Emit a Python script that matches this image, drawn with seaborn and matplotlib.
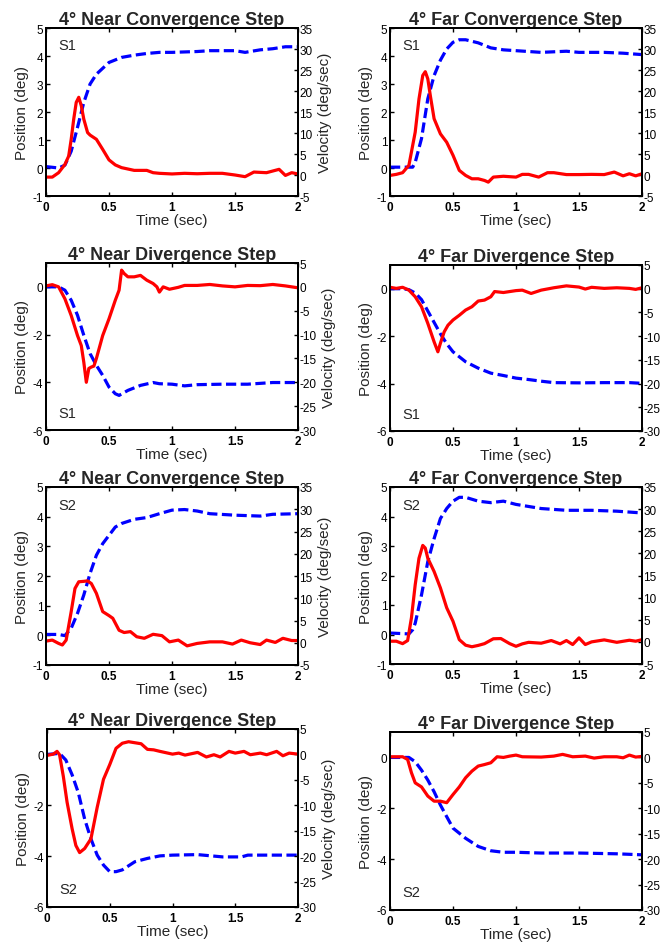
import numpy as np
import pandas as pd
import matplotlib
matplotlib.use("Agg")
import matplotlib.pyplot as plt
import seaborn as sns

# Readings per panel: time (sec), position (deg), velocity (deg/sec)
# 4 deg near convergence, S1
t_pos_nc1 = [0, 0.1, 0.15, 0.2, 0.25, 0.3, 0.35, 0.4, 0.5, 0.6, 0.7, 0.8, 0.9, 1.0, 1.2, 1.3, 1.5, 1.58, 1.7, 1.8, 1.9, 2.0]
pos_nc1 = [0.05, 0.0, 0.1, 0.6, 1.45, 2.34, 3.0, 3.35, 3.77, 3.95, 4.03, 4.09, 4.13, 4.13, 4.16, 4.19, 4.19, 4.13, 4.22, 4.26, 4.33, 4.33]
t_vel_nc1 = [0, 0.05, 0.1, 0.15, 0.18, 0.2, 0.22, 0.24, 0.26, 0.28, 0.3, 0.33, 0.35, 0.4, 0.45, 0.5, 0.55, 0.6, 0.7, 0.8,
             0.85, 0.9, 1.0, 1.1, 1.2, 1.3, 1.4, 1.5, 1.58, 1.65, 1.75, 1.85, 1.9, 1.95, 2.0]
vel_nc1 = [-0.5, -0.5, 0.55, 2.5, 4.5, 8.5, 13.3, 17.3, 18.5, 16.5, 13.3, 10.1, 9.5, 8.5, 6.1, 3.6, 2.4, 1.75, 1.1, 1.1,
           0.55, 0.4, 0.25, 0.4, 0.3, 0.4, 0.4, 0.0, -0.4, 0.7, 0.55, 1.35, -0.1, 0.55, 0.25]

# 4 deg far convergence, S1
t_pos_fc1 = [0, 0.18, 0.2, 0.25, 0.3, 0.35, 0.4, 0.45, 0.5, 0.55, 0.6, 0.7, 0.8, 0.9, 1.0, 1.2, 1.4, 1.5, 1.7, 1.85, 2.0]
pos_fc1 = [0.03, 0.03, 0.2, 1.05, 2.47, 3.3, 3.85, 4.25, 4.49, 4.58, 4.58, 4.47, 4.29, 4.22, 4.19, 4.13, 4.17, 4.13, 4.13, 4.1, 4.05]
t_vel_fc1 = [0, 0.05, 0.1, 0.15, 0.2, 0.23, 0.26, 0.28, 0.3, 0.32, 0.35, 0.4, 0.45, 0.5, 0.55, 0.6, 0.65, 0.7, 0.75, 0.78,
             0.82, 0.9, 1.0, 1.05, 1.1, 1.18, 1.25, 1.3, 1.4, 1.5, 1.6, 1.7, 1.78, 1.85, 1.9, 1.95, 2.0]
vel_fc1 = [-0.1, 0.15, 0.55, 2.3, 10.2, 18.1, 23.7, 24.6, 22.9, 18.9, 13.4, 9.8, 7.8, 4.7, 1.1, -0.1, -0.9, -0.9, -1.3, -1.7,
           -0.5, -0.3, -0.5, 0.15, 0.15, -0.5, 0.55, 0.55, 0.1, 0.1, 0.15, 0.1, 0.7, -0.2, 0.3, -0.2, 0.3]

# 4 deg near divergence, S1
t_pos_nd1 = [0, 0.1, 0.15, 0.2, 0.25, 0.3, 0.35, 0.4, 0.45, 0.5, 0.55, 0.58, 0.65, 0.75, 0.85, 0.9, 1.0, 1.1, 1.2, 1.4, 1.6, 1.8, 2.0]
pos_nd1 = [0, 0, -0.14, -0.56, -1.19, -2.03, -2.8, -3.29, -3.71, -4.2, -4.48, -4.55, -4.34, -4.13, -4.01, -4.06, -4.08,
           -4.15, -4.1, -4.08, -4.08, -4.01, -4.01]
t_vel_nd1 = [0, 0.05, 0.1, 0.15, 0.2, 0.25, 0.28, 0.3, 0.32, 0.34, 0.36, 0.38, 0.4, 0.45, 0.5, 0.55, 0.58, 0.6, 0.62, 0.65,
             0.7, 0.75, 0.8, 0.85, 0.88, 0.9, 0.93, 0.98, 1.05, 1.1, 1.2, 1.3, 1.4, 1.5, 1.6, 1.7, 1.8, 1.9, 2.0]
vel_nd1 = [0.2, 0.46, 0, -2.5, -6, -10.2, -12.3, -15.8, -20, -17.1, -16.8, -16.6, -15, -10.2, -6.7, -2.8, -0.7, 3.5, 2.8, 2.1,
           2.1, 2.4, 1.4, 0.7, 0, -1.1, 0, -0.5, -0.1, 0.3, 0.3, 0.5, 0.2, 0, 0.3, 0.25, 0.5, 0.2, -0.2]

# 4 deg far divergence, S1
t_pos_fd1 = [0, 0.1, 0.15, 0.2, 0.25, 0.3, 0.35, 0.4, 0.45, 0.5, 0.6, 0.7, 0.8, 0.9, 1.0, 1.1, 1.2, 1.3, 1.5, 1.7, 1.9, 2.0]
pos_fd1 = [0, 0, -0.04, -0.18, -0.46, -0.94, -1.42, -1.9, -2.32, -2.66, -3.08, -3.35, -3.56, -3.66, -3.77, -3.83, -3.9,
           -3.96, -3.97, -3.96, -3.96, -3.99]
t_vel_fd1 = [0, 0.05, 0.1, 0.15, 0.2, 0.25, 0.3, 0.35, 0.38, 0.4, 0.43, 0.46, 0.5, 0.55, 0.6, 0.65, 0.7, 0.75, 0.8, 0.83,
             0.9, 1.0, 1.05, 1.12, 1.2, 1.3, 1.4, 1.5, 1.55, 1.6, 1.7, 1.8, 1.9, 1.95, 2.0]
vel_fd1 = [0.3, 0.07, 0.3, -0.3, -1.7, -3.8, -7.3, -11.2, -13.3, -11.5, -9.1, -7.7, -6.6, -5.6, -4.5, -3.8, -2.6, -2.4, -1.7, -0.6,
           -0.8, -0.4, -0.3, -1.0, -0.3, 0.2, 0.6, 0.35, -0.07, 0.3, 0.07, 0.2, 0.07, -0.14, 0.2]

# 4 deg near convergence, S2
t_pos_nc2 = [0, 0.1, 0.15, 0.2, 0.25, 0.3, 0.35, 0.4, 0.45, 0.5, 0.55, 0.6, 0.7, 0.8, 0.9, 1.0, 1.1, 1.2, 1.3, 1.5, 1.7, 1.8, 2.0]
pos_nc2 = [0.03, 0.03, -0.01, 0.24, 0.74, 1.36, 2.09, 2.7, 3.09, 3.37, 3.65, 3.77, 3.91, 3.97, 4.1, 4.22, 4.24, 4.19, 4.1,
           4.05, 4.02, 4.08, 4.1]
t_vel_nc2 = [0, 0.05, 0.1, 0.13, 0.16, 0.2, 0.23, 0.26, 0.3, 0.33, 0.36, 0.4, 0.45, 0.5, 0.53, 0.58, 0.62, 0.67, 0.72, 0.78,
             0.85, 0.92, 0.98, 1.05, 1.12, 1.2, 1.3, 1.4, 1.48, 1.55, 1.62, 1.7, 1.75, 1.82, 1.88, 1.95, 2.0]
vel_nc2 = [0.37, 0.6, -0.15, -0.5, 0.6, 7.0, 12.2, 13.7, 13.8, 13.9, 13.3, 11.1, 7.0, 6.1, 5.5, 2.8, 2.3, 2.5, 1.35, 1.0,
           1.9, 1.6, 0.2, 0.6, -0.7, -0.15, 0.2, 0.2, -0.3, 0.6, 0, -0.4, 0.6, 0.07, 1.0, 0.5, 0.5]

# 4 deg far convergence, S2
t_pos_fc2 = [0, 0.15, 0.18, 0.2, 0.25, 0.3, 0.35, 0.4, 0.45, 0.5, 0.55, 0.6, 0.7, 0.8, 0.9, 1.0, 1.2, 1.4, 1.6, 1.8, 2.0]
pos_fc2 = [0.05, 0.02, 0.16, 0.38, 1.34, 2.47, 3.25, 3.93, 4.27, 4.52, 4.65, 4.65, 4.52, 4.47, 4.52, 4.41, 4.27, 4.21,
           4.21, 4.18, 4.12]
t_vel_fc2 = [0, 0.05, 0.1, 0.14, 0.17, 0.2, 0.23, 0.26, 0.28, 0.3, 0.35, 0.4, 0.45, 0.5, 0.55, 0.6, 0.65, 0.7, 0.75, 0.82,
             0.88, 0.95, 1.0, 1.05, 1.1, 1.2, 1.28, 1.35, 1.4, 1.45, 1.5, 1.55, 1.6, 1.7, 1.8, 1.9, 1.95, 2.0]
vel_fc2 = [0.15, 0.15, -0.4, 0.3, 5.4, 12.9, 18.9, 21.8, 21.2, 18.9, 15.9, 12.2, 7.7, 4.65, 0.5, -0.75, -1.1, -0.8, -0.4, 0.7,
           0.75, -0.4, -1.0, -0.45, -0.1, -0.3, 0.3, -0.45, 0.3, -0.6, 0.9, -0.6, 0, 0.45, -0.1, 0.37, 0.15, 0.5]

# 4 deg near divergence, S2
t_pos_nd2 = [0, 0.1, 0.15, 0.2, 0.25, 0.3, 0.35, 0.4, 0.45, 0.5, 0.55, 0.6, 0.7, 0.8, 0.9, 1.0, 1.2, 1.4, 1.55, 1.6, 1.8, 2.0]
pos_nd2 = [0, 0.04, -0.22, -0.8, -1.51, -2.54, -3.32, -3.96, -4.35, -4.61, -4.61, -4.54, -4.22, -4.09, -3.99, -3.96,
           -3.94, -4.03, -4.03, -3.96, -3.96, -3.96]
t_vel_nd2 = [0, 0.05, 0.08, 0.1, 0.13, 0.16, 0.2, 0.23, 0.26, 0.3, 0.35, 0.4, 0.45, 0.5, 0.55, 0.6, 0.65, 0.7, 0.75, 0.8,
             0.85, 0.9, 1.0, 1.05, 1.1, 1.2, 1.27, 1.33, 1.38, 1.45, 1.5, 1.57, 1.62, 1.7, 1.75, 1.83, 1.88, 1.93, 2.0]
vel_nd2 = [-0.2, 0.06, 0.6, -0.06, -4.3, -9.4, -14.6, -17.9, -19.3, -18.5, -16.6, -10.4, -4.9, -2.0, 1.2, 2.2, 2.5, 2.3, 2.1, 1.0,
           0.9, 0.6, 0.06, 0.26, -0.13, 0.4, -0.5, -0.06, -0.5, 0.6, 0.26, 0.6, -0.06, 0.26, -0.06, 0.6, -0.26, 0.26, 0.06]

# 4 deg far divergence, S2
t_pos_fd2 = [0, 0.15, 0.2, 0.25, 0.3, 0.35, 0.4, 0.45, 0.5, 0.6, 0.7, 0.8, 0.9, 1.0, 1.2, 1.5, 1.8, 2.0]
pos_fd2 = [0, 0, -0.17, -0.5, -0.89, -1.35, -1.87, -2.33, -2.78, -3.18, -3.5, -3.67, -3.73, -3.73, -3.76, -3.76, -3.79, -3.83]
t_vel_fd2 = [0, 0.1, 0.14, 0.17, 0.2, 0.25, 0.3, 0.35, 0.4, 0.45, 0.5, 0.55, 0.6, 0.65, 0.7, 0.75, 0.8, 0.85, 0.9, 0.95,
             1.0, 1.05, 1.2, 1.3, 1.37, 1.45, 1.55, 1.62, 1.7, 1.8, 1.85, 1.9, 1.95, 2.0]
vel_fd2 = [0.13, 0.13, -0.4, -3.0, -5.0, -5.8, -7.6, -8.6, -8.6, -8.9, -7.3, -5.8, -4.0, -2.7, -1.7, -1.4, -1.05, 0.13, 0, 0.26,
           0.46, 0.13, 0.07, 0.26, 0.6, 0.13, 0.26, -0.13, 0.13, 0.13, -0.07, 0.46, 0.07, 0.2]

titles = ["4° Near Convergence Step", "4° Far Convergence Step",
          "4° Near Divergence Step", "4° Far Divergence Step"]
x_ticks = [0, 0.5, 1, 1.5, 2]
x_tick_labels = ["0", "0.5", "1", "1.5", "2"]

# Style
sns.set_style("ticks")
plt.rcParams["font.family"] = ["Liberation Sans", "DejaVu Sans"]
plt.rcParams["axes.linewidth"] = 1.4

fig = plt.figure(figsize=(6.63, 9.45), dpi=100)
W, H = 663, 945

def rect(x0, y0, x1, y1):
    return [x0 / W, 1 - y1 / H, (x1 - x0) / W, (y1 - y0) / H]

# (axes rect in px, title, subject, pos data, vel data, is convergence, left column)
panels = [
    (rect(46, 29, 298, 197), titles[0], "S1", t_pos_nc1, pos_nc1, t_vel_nc1, vel_nc1, True, True),
    (rect(390, 29, 642, 197), titles[1], "S1", t_pos_fc1, pos_fc1, t_vel_fc1, vel_fc1, True, False),
    (rect(46, 264, 298, 431), titles[2], "S1", t_pos_nd1, pos_nd1, t_vel_nd1, vel_nd1, False, True),
    (rect(390, 266, 642, 432), titles[3], "S1", t_pos_fd1, pos_fd1, t_vel_fd1, vel_fd1, False, False),
    (rect(46, 488, 298, 666), titles[0], "S2", t_pos_nc2, pos_nc2, t_vel_nc2, vel_nc2, True, True),
    (rect(390, 488, 642, 665), titles[1], "S2", t_pos_fc2, pos_fc2, t_vel_fc2, vel_fc2, True, False),
    (rect(47, 730, 298, 908), titles[2], "S2", t_pos_nd2, pos_nd2, t_vel_nd2, vel_nd2, False, True),
    (rect(390, 733, 642, 911), titles[3], "S2", t_pos_fd2, pos_fd2, t_vel_fd2, vel_fd2, False, False),
]

for r, title, subj, tp, pos, tv, vel, conv, left_col in panels:
    ax = fig.add_axes(r)
    sns.lineplot(x=tp, y=pos, ax=ax, color="#0000ff", lw=2.3, estimator=None, sort=False,
                 linestyle=(0, (3.2, 1.4)))
    ax.set_xlim(0, 2)
    if conv:
        ax.set_ylim(-1, 5)
        ax.set_yticks([-1, 0, 1, 2, 3, 4, 5])
        ax.set_yticklabels(["-1", "0", "1", "2", "3", "4", "5"])
    else:
        ax.set_ylim(-6, 1)
        ax.set_yticks([-6, -4, -2, 0])
        ax.set_yticklabels(["-6", "-4", "-2", "0"])
    ax.set_xticks(x_ticks)
    ax.set_xticklabels(x_tick_labels, fontweight="bold")
    ax.tick_params(direction="in", length=3, top=True, right=False, labelsize=8.5, width=1.0,
                   colors="black")
    ax.tick_params(axis="y", pad=2)
    ax.tick_params(axis="x", pad=3.5)
    ax.set_xlabel("Time (sec)", fontsize=11, labelpad=0)
    ax.set_ylabel("Position (deg)", fontsize=11, labelpad=3)
    ax.set_title(title, fontsize=13, fontweight="bold", pad=3)
    ax.text(0.05, 0.9 if conv else 0.1, subj, transform=ax.transAxes, fontsize=10.5,
            ha="left", va="center")

    ax2 = ax.twinx()
    sns.lineplot(x=tv, y=vel, ax=ax2, color="#ff0000", lw=2.3, estimator=None, sort=False)
    if conv:
        ax2.set_ylim(-5, 35)
        ax2.set_yticks(list(range(-5, 36, 5)))
        ax2.set_yticklabels([str(v) for v in range(-5, 36, 5)])
    else:
        ax2.set_ylim(-30, 5)
        ax2.set_yticks(list(range(-30, 6, 5)))
        ax2.set_yticklabels([str(v) for v in range(-30, 6, 5)])
    ax2.tick_params(direction="in", length=3, labelsize=8.5, width=1.0, pad=1, colors="black")
    if left_col:
        ax2.set_ylabel("Velocity (deg/sec)", fontsize=11, labelpad=4)
    else:
        ax2.set_ylabel("")
    for a in (ax, ax2):
        for s in a.spines.values():
            s.set_visible(True)
            s.set_color("black")

fig.savefig("out.png", dpi=100, facecolor="white")
